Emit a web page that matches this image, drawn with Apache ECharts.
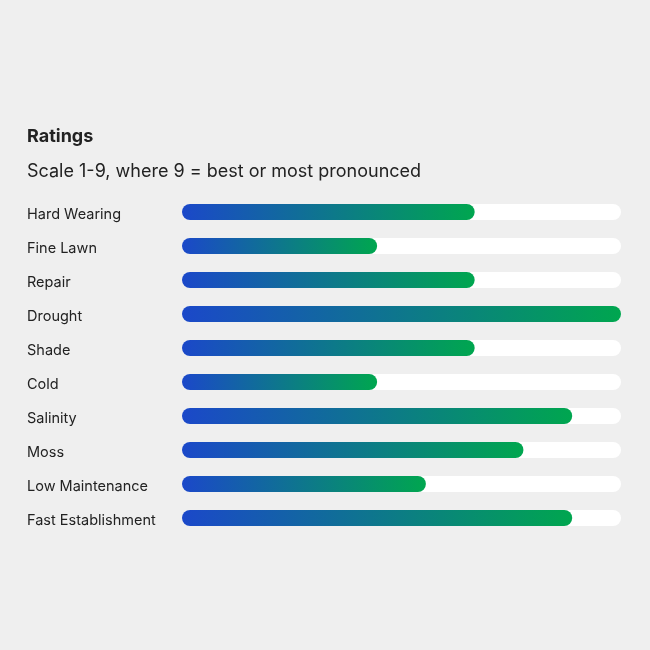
<!DOCTYPE html>
<html><head><meta charset="utf-8">
<script src="https://cdn.jsdelivr.net/npm/echarts@6/dist/echarts.min.js"></script>
<style>html,body{margin:0;padding:0;background:#efefef;}#c{width:650px;height:650px;}</style>
</head><body><div id="c"></div>
<script>
const categories = ["Hard Wearing","Fine Lawn","Repair","Drought","Shade","Cold","Salinity","Moss","Low Maintenance","Fast Establishment"];
const ratings = [6,4,6,9,6,4,8,7,5,8];
const scaleMax = 9;

const chart = echarts.init(document.getElementById('c'));
chart.setOption({
  backgroundColor: '#efefef',
  animation: false,
  title: [
    {text: 'Ratings', left: 27, top: 128, padding: 0, textStyle: {fontFamily: 'Inter', fontSize: 18, fontWeight: 'bold', color: '#222'}},
    {text: 'Scale 1-9, where 9 = best or most pronounced', left: 27, top: 163, padding: 0, textStyle: {fontFamily: 'Inter', fontSize: 18, fontWeight: 'normal', color: '#222'}}
  ],
  grid: {left: 182, right: 29, top: 195, bottom: 115},
  xAxis: {type: 'value', min: 0, max: scaleMax, show: false},
  yAxis: {
    type: 'category', data: categories, inverse: true,
    axisLine: {show: false}, axisTick: {show: false},
    axisLabel: {align: 'left', verticalAlign: 'top', lineHeight: 6, margin: 155, fontFamily: 'Inter', fontSize: 14.5, color: '#222'}
  },
  series: [{
    type: 'bar', data: ratings, barWidth: 16,
    showBackground: true,
    backgroundStyle: {color: '#ffffff', borderRadius: 8},
    itemStyle: {
      borderRadius: 8,
      color: new echarts.graphic.LinearGradient(0, 0, 1, 0, [
        {offset: 0, color: '#1b48c9'},
        {offset: 1, color: '#00a64f'}
      ])
    }
  }]
});
</script></body></html>
